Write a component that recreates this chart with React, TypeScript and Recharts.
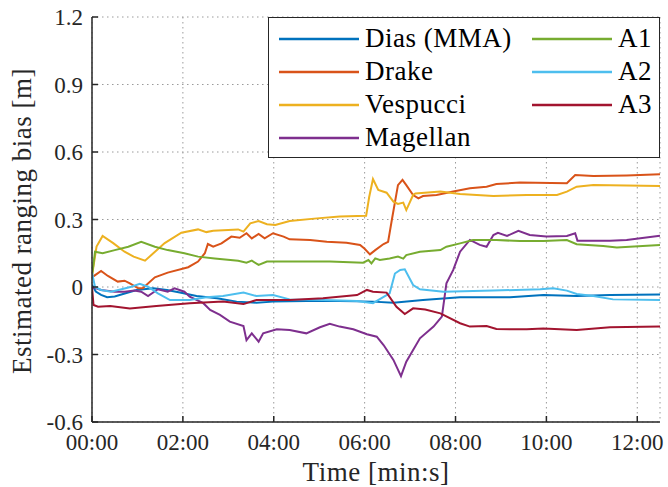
import React from "react";
import {
  LineChart,
  Line,
  XAxis,
  YAxis,
  CartesianGrid,
  Legend,
} from "recharts";

// time in seconds, bias in metres
type Pt = [number, number];

const dias: Pt[] = [
  [0, 0.01], [5, -0.02], [12, -0.035], [20, -0.045], [30, -0.042], [41, -0.031],
  [59, -0.013], [81, -0.006], [99, -0.013], [116, -0.024], [138, -0.04], [165, -0.05],
  [191, -0.065], [217, -0.07], [239, -0.065], [283, -0.062], [327, -0.062], [371, -0.065],
  [398, -0.07], [437, -0.058], [486, -0.046], [552, -0.046], [596, -0.036], [640, -0.04],
  [684, -0.036], [750, -0.033],
];

const drake: Pt[] = [
  [0, 0.043], [12, 0.071], [21, 0.049], [34, 0.024], [43, 0.028], [50, 0.016],
  [61, -0.006], [67, -0.006], [83, 0.043], [100, 0.064], [127, 0.088], [140, 0.113],
  [149, 0.15], [153, 0.191], [160, 0.179], [171, 0.194], [184, 0.224], [195, 0.219],
  [204, 0.239], [211, 0.216], [220, 0.236], [228, 0.216], [239, 0.239], [253, 0.224],
  [261, 0.212], [288, 0.209], [310, 0.201], [336, 0.197], [354, 0.187], [360, 0.17],
  [367, 0.145], [374, 0.164], [385, 0.191], [391, 0.201], [396, 0.3], [404, 0.453],
  [410, 0.476], [415, 0.453], [424, 0.409], [431, 0.394], [437, 0.404], [455, 0.409],
  [477, 0.424], [499, 0.439], [521, 0.446], [534, 0.458], [565, 0.464], [627, 0.461],
  [638, 0.498], [662, 0.493], [706, 0.496], [750, 0.501],
];

const vespucci: Pt[] = [
  [0, 0.05], [6, 0.18], [14, 0.227], [28, 0.195], [43, 0.157], [55, 0.135],
  [70, 0.117], [96, 0.195], [118, 0.241], [140, 0.256], [151, 0.244], [160, 0.25],
  [193, 0.256], [200, 0.246], [209, 0.283], [220, 0.293], [231, 0.279], [242, 0.276],
  [261, 0.293], [297, 0.305], [327, 0.313], [362, 0.317], [366, 0.4], [371, 0.48],
  [378, 0.431], [389, 0.419], [398, 0.379], [404, 0.369], [411, 0.375], [415, 0.342],
  [424, 0.409], [427, 0.416], [460, 0.424], [486, 0.413], [530, 0.404], [574, 0.409],
  [614, 0.409], [627, 0.424], [640, 0.446], [662, 0.453], [750, 0.449],
];

const magellan: Pt[] = [
  [0, 0], [12, -0.013], [30, -0.021], [43, -0.021], [56, -0.016], [65, -0.021],
  [74, -0.04], [87, -0.01], [100, -0.021], [109, -0.006], [122, -0.021], [129, -0.043],
  [147, -0.072], [156, -0.102], [169, -0.124], [182, -0.154], [200, -0.173], [204, -0.236],
  [211, -0.206], [220, -0.243], [226, -0.206], [244, -0.188], [261, -0.191], [283, -0.206],
  [301, -0.179], [314, -0.164], [327, -0.176], [345, -0.188], [363, -0.21], [376, -0.221],
  [385, -0.258], [398, -0.324], [408, -0.396], [415, -0.332], [433, -0.228], [451, -0.176],
  [462, -0.132], [468, 0.016], [477, 0.076], [486, 0.157], [499, 0.209], [512, 0.187],
  [521, 0.179], [530, 0.231], [536, 0.241], [548, 0.227], [563, 0.25], [578, 0.231],
  [600, 0.224], [627, 0.227], [638, 0.239], [641, 0.206], [684, 0.206], [706, 0.209],
  [750, 0.228],
];

const a1: Pt[] = [
  [0, 0.05], [4, 0.157], [14, 0.15], [30, 0.164], [48, 0.179], [65, 0.201],
  [83, 0.179], [100, 0.164], [122, 0.15], [140, 0.135], [162, 0.127], [193, 0.117],
  [204, 0.108], [211, 0.117], [220, 0.098], [231, 0.113], [270, 0.113], [314, 0.113],
  [358, 0.108], [365, 0.12], [369, 0.105], [374, 0.127], [380, 0.12], [393, 0.127],
  [404, 0.135], [411, 0.126], [415, 0.142], [433, 0.157], [460, 0.164], [468, 0.179],
  [486, 0.194], [503, 0.209], [534, 0.209], [565, 0.204], [596, 0.204], [627, 0.209],
  [640, 0.19], [675, 0.182], [693, 0.176], [750, 0.187],
];

const a2: Pt[] = [
  [0, 0.064], [4, 0], [12, -0.013], [25, -0.021], [39, -0.01], [52, 0.001],
  [63, 0.014], [74, 0.001], [87, -0.028], [103, -0.058], [129, -0.058], [151, -0.046],
  [173, -0.04], [200, -0.025], [217, -0.04], [239, -0.036], [261, -0.055], [305, -0.058],
  [350, -0.062], [371, -0.072], [393, -0.028], [400, 0.06], [407, 0.076], [413, 0.079],
  [424, 0.009], [433, -0.01], [464, -0.021], [530, -0.016], [592, -0.01], [609, -0.006],
  [627, -0.016], [640, -0.031], [662, -0.04], [688, -0.055], [750, -0.058],
];

const a3: Pt[] = [
  [0, 0], [2, -0.08], [8, -0.088], [24, -0.084], [50, -0.095], [85, -0.084],
  [129, -0.072], [173, -0.065], [200, -0.076], [217, -0.058], [261, -0.058], [305, -0.05],
  [350, -0.036], [363, -0.013], [371, -0.021], [389, -0.025], [402, -0.088], [413, -0.12],
  [424, -0.095], [440, -0.1], [460, -0.117], [486, -0.161], [499, -0.176], [521, -0.173],
  [534, -0.187], [574, -0.188], [596, -0.184], [640, -0.191], [684, -0.179], [750, -0.176],
];

const xTicks = [0, 120, 240, 360, 480, 600, 720];
const yTicks = [-0.6, -0.3, 0, 0.3, 0.6, 0.9, 1.2];

const series = [
  { name: "Dias (MMA)", pts: dias, color: "#0072BD" },
  { name: "Drake", pts: drake, color: "#D95319" },
  { name: "Vespucci", pts: vespucci, color: "#EDB120" },
  { name: "Magellan", pts: magellan, color: "#7E2F8E" },
  { name: "A1", pts: a1, color: "#77AC30" },
  { name: "A2", pts: a2, color: "#4DBEEE" },
  { name: "A3", pts: a3, color: "#A2142F" },
];

const FONT = "'Liberation Serif', 'Times New Roman', serif";
const AXIS = "#262626";

const fmtTime = (t: number) => {
  const m = Math.floor(t / 60);
  const s = Math.round(t % 60);
  return `${String(m).padStart(2, "0")}:${String(s).padStart(2, "0")}`;
};
const fmtY = (v: number) => (v === 0 ? "0" : v.toFixed(1));

const LegendBox = () => (
  <div
    style={{
      position: "relative",
      width: 392,
      height: 141,
      boxSizing: "border-box",
      border: `1.5px solid ${AXIS}`,
      background: "#fff",
      fontFamily: FONT,
      fontSize: 27,
      letterSpacing: 0.5,
      color: "#000",
    }}
  >
    {series.map((s, i) => {
      const col = i < 4 ? 0 : 1;
      const row = i < 4 ? i : i - 4;
      const lineLeft = col === 0 ? 10 : 263;
      const top = 4 + row * 33;
      return (
        <div key={s.name} style={{ position: "absolute", left: lineLeft, top, height: 33, display: "flex", alignItems: "center", whiteSpace: "nowrap" }}>
          <svg width={80} height={6} style={{ display: "block" }}>
            <line x1={0} y1={3} x2={80} y2={3} stroke={s.color} strokeWidth={2.5} />
          </svg>
          <span style={{ marginLeft: 6, lineHeight: "33px" }}>{s.name}</span>
        </div>
      );
    })}
  </div>
);

export default function App() {
  return (
    <div style={{ position: "absolute", left: 0, top: 0, background: "#fff" }}>
      <LineChart width={668} height={487} margin={{ top: 17, right: 8, bottom: 0, left: 0 }}>
        <CartesianGrid stroke="#9a9a9a" strokeDasharray="1.5 3.5" strokeWidth={1} />
        <XAxis
          dataKey="t"
          type="number"
          domain={[0, 750]}
          ticks={xTicks}
          allowDataOverflow
          height={65}
          stroke={AXIS}
          strokeWidth={1.5}
          tickSize={-6}
          tickMargin={18}
          tickFormatter={fmtTime}
          tick={{ fill: AXIS, fontFamily: FONT, fontSize: 23 }}
          label={{
            content: () => (
              <text x={376} y={481} textAnchor="middle" fontFamily={FONT} fontSize={27} fill={AXIS} letterSpacing={0.5}>
                Time [min:s]
              </text>
            ),
          }}
        />
        <XAxis
          xAxisId="top"
          orientation="top"
          type="number"
          domain={[0, 750]}
          ticks={xTicks}
          allowDataOverflow
          height={0}
          stroke={AXIS}
          strokeWidth={1.5}
          tickSize={-6}
          tickFormatter={() => ""}
        />
        <YAxis
          type="number"
          domain={[-0.6, 1.2]}
          ticks={yTicks}
          allowDataOverflow
          width={92}
          stroke={AXIS}
          strokeWidth={1.5}
          tickSize={-6}
          tickMargin={15}
          tickFormatter={fmtY}
          tick={{ fill: AXIS, fontFamily: FONT, fontSize: 23 }}
          label={{
            content: () => (
              <text
                x={31}
                y={221}
                textAnchor="middle"
                fontFamily={FONT}
                fontSize={27}
                fill={AXIS}
                letterSpacing={0.5}
                transform="rotate(-90, 31, 221)"
              >
                Estimated ranging bias [m]
              </text>
            ),
          }}
        />
        <YAxis
          yAxisId="right"
          orientation="right"
          type="number"
          domain={[-0.6, 1.2]}
          ticks={yTicks}
          allowDataOverflow
          width={0}
          stroke={AXIS}
          strokeWidth={1.5}
          tickSize={-6}
          tickFormatter={() => ""}
        />
        {series.map((s) => (
          <Line
            key={s.name}
            name={s.name}
            data={s.pts.map(([t, v]) => ({ t, v }))}
            dataKey="v"
            type="linear"
            stroke={s.color}
            strokeWidth={2}
            dot={false}
            activeDot={false}
            isAnimationActive={false}
          />
        ))}
        <Legend
          layout="horizontal"
          verticalAlign="middle"
          align="center"
          wrapperStyle={{ left: 268, top: 17, width: 392, height: 141 }}
          content={() => <LegendBox />}
        />
      </LineChart>
    </div>
  );
}
